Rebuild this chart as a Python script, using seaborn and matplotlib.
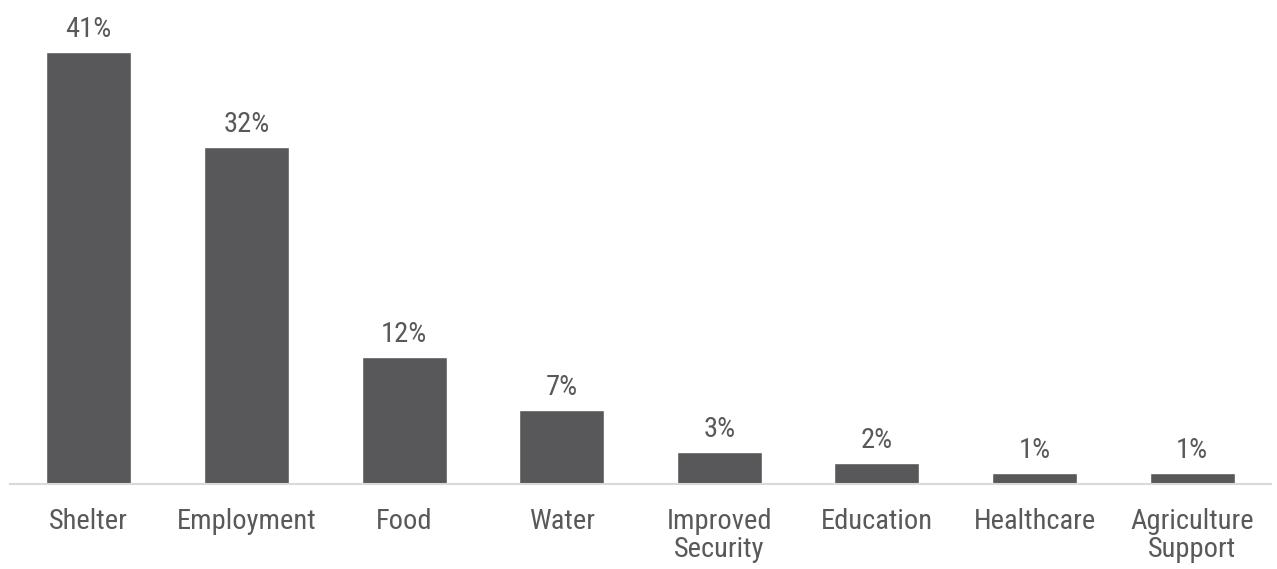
import matplotlib
matplotlib.use("Agg")
import matplotlib.pyplot as plt
import seaborn as sns
import pandas as pd

categories = ["Shelter", "Employment", "Food", "Water", "Improved\nSecurity",
              "Education", "Healthcare", "Agriculture\nSupport"]
shares = [41, 32, 12, 7, 3, 2, 1, 1]
value_labels = ["41%", "32%", "12%", "7%", "3%", "2%", "1%", "1%"]

sns.set_style("white")
plt.rcParams["font.family"] = ["Roboto Condensed", "Liberation Sans", "DejaVu Sans"]

BAR = "#58585A"
TEXT = "#595959"
FS = 20.5

df = pd.DataFrame({"category": categories, "share": shares})

fig = plt.figure(figsize=(12.77, 5.69), dpi=100)
ax = fig.add_axes([10 / 1277, 85 / 569, 1261 / 1277, 484 / 569])
sns.barplot(data=df, x="category", y="share", color=BAR, width=0.54,
            saturation=1, ax=ax)

ax.set_xlim(-0.5, len(categories) - 0.5)
ax.set_ylim(0, 45.9)
for bar, lab in zip(ax.patches, value_labels):
    ax.annotate(lab, (bar.get_x() + bar.get_width() / 2, bar.get_height()),
                xytext=(0, 6.5), textcoords="offset points", ha="center",
                va="bottom", fontsize=FS, color=TEXT)

ax.set_xlabel("")
ax.set_ylabel("")
ax.set_yticks([])
for side in ["top", "right", "left"]:
    ax.spines[side].set_visible(False)
ax.spines["bottom"].set_color("#D9D9D9")
ax.spines["bottom"].set_linewidth(1.5)
ax.tick_params(axis="x", length=0, pad=17, labelsize=FS, labelcolor=TEXT)
for t in ax.get_xticklabels():
    t.set_linespacing(1.05)

fig.savefig("out.png", dpi=100)
